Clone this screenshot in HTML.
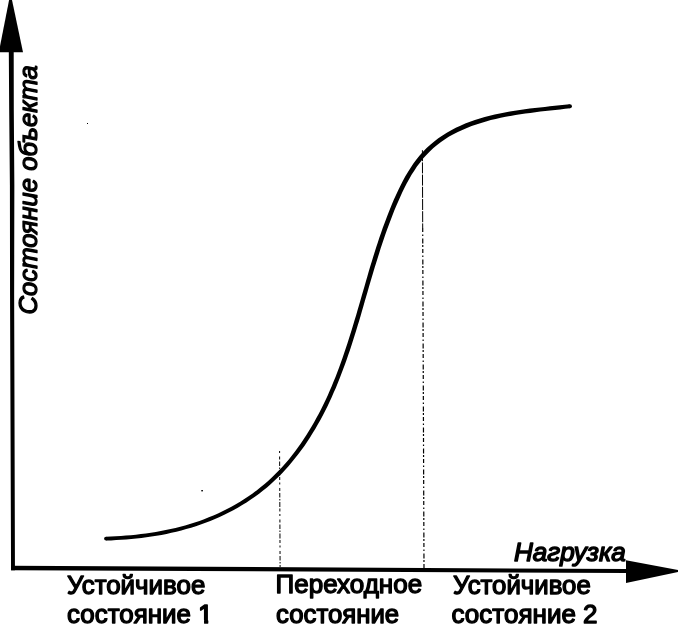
<!DOCTYPE html>
<html><head><meta charset="utf-8"><title>График</title>
<style>
html,body{margin:0;padding:0;background:#fff;}
svg{display:block}
text{font-family:"Liberation Sans",sans-serif;fill:#000;stroke:#000;stroke-linejoin:round}
.it{font-style:italic}
</style></head><body>
<svg width="678" height="625" viewBox="0 0 678 625">
<rect width="678" height="625" fill="#fff"/>
<!-- axes -->
<polygon points="9.1,0 12,0 23,52.3 -1.2,52.3" fill="#000"/>
<polygon points="8.8,50 13.7,50 13.8,110 14.35,185 14.15,295 14.95,570.3 11.05,570.3 10.05,295 9.9,185 9.2,110" fill="#000"/>
<polygon points="11.05,565.8 627,569.1 627,573.0 11.05,570.3" fill="#000"/>
<polygon points="626,560.2 678,569.9 678,571.9 626,583" fill="#000"/>
<!-- dashed -->
<line x1="279.6" y1="451" x2="280.1" y2="567" stroke="#000" stroke-width="1" stroke-dasharray="2 3.5 3 2 4.5 1.5 1.5 1.5 5 1.5 3 2.5"/>
<line x1="422.4" y1="150.2" x2="422.7" y2="228" stroke="#000" stroke-width="1" stroke-dasharray="11 1.2"/>
<line x1="422.7" y1="228" x2="424" y2="568.5" stroke="#000" stroke-width="1.2" stroke-dasharray="4 2.5 1.5 2.5 5 1.5 2 2"/>
<!-- curve -->
<g fill="#000"><path d="M106.1,540.5 L111.1,540.4 L116.2,540.1 L121.2,539.8 L126.2,539.4 L131.3,539.0 L136.3,538.5 L141.4,537.9 L146.4,537.3 L151.4,536.6 L156.5,535.8 L161.5,534.9 L166.5,533.9 L171.4,532.8 L176.4,531.7 L181.3,530.5 L186.2,529.1 L191.1,527.7 L195.9,526.2 L200.7,524.6 L205.5,522.8 L210.3,521.0 L215.0,519.1 L219.6,517.0 L224.3,514.8 L228.8,512.6 L233.3,510.2 L237.8,507.7 L242.2,505.1 L246.5,502.4 L250.8,499.6 L254.9,496.7 L259.1,493.7 L263.1,490.6 L267.0,487.4 L270.9,484.0 L274.6,480.6 L278.3,477.1 L281.9,473.5 L285.3,469.7 L288.7,466.0 L292.0,462.1 L295.2,458.1 L298.4,454.1 L301.4,450.0 L304.4,445.9 L307.2,441.7 L310.0,437.4 L312.7,433.1 L315.4,428.7 L317.9,424.3 L320.4,419.9 L322.8,415.4 L325.1,410.9 L327.4,406.4 L329.6,401.8 L331.7,397.2 L333.7,392.6 L335.8,387.9 L337.7,383.2 L339.6,378.5 L341.4,373.8 L343.2,369.1 L345.0,364.3 L346.7,359.5 L348.3,354.7 L350.0,349.9 L351.6,345.1 L353.1,340.3 L354.6,335.5 L356.1,330.7 L357.6,325.8 L359.1,321.0 L360.5,316.2 L361.9,311.3 L363.3,306.5 L364.7,301.6 L366.1,296.8 L367.5,292.0 L368.9,287.1 L370.3,282.3 L371.7,277.5 L373.2,272.6 L374.6,267.8 L376.1,263.0 L377.6,258.2 L379.1,253.4 L380.6,248.6 L382.2,243.8 L383.8,239.1 L385.4,234.3 L387.1,229.6 L388.8,224.9 L390.6,220.2 L392.4,215.5 L394.2,210.8 L396.2,206.1 L398.2,201.5 L400.2,196.9 L402.3,192.3 L404.5,187.7 L406.8,183.3 L409.2,178.9 L411.7,174.6 L414.4,170.4 L417.1,166.3 L420.1,162.4 L423.1,158.6 L426.4,154.9 L429.8,151.4 L433.4,148.1 L437.1,145.0 L441.0,142.0 L445.0,139.2 L449.1,136.6 L453.4,134.2 L457.8,132.0 L462.3,129.9 L466.9,127.9 L471.6,126.1 L476.3,124.4 L481.1,122.9 L486.0,121.4 L490.8,120.1 L495.7,118.9 L500.7,117.8 L505.6,116.8 L510.5,115.9 L515.5,115.0 L520.4,114.2 L525.4,113.5 L530.3,112.9 L535.3,112.2 L540.3,111.6 L545.2,111.1 L550.2,110.5 L555.2,110.0 L560.2,109.4 L565.2,108.8 L570.2,108.3 L569.7,104.2 L564.7,104.7 L559.7,105.3 L554.8,105.8 L549.8,106.3 L544.8,106.9 L539.8,107.4 L534.8,108.0 L529.8,108.6 L524.8,109.3 L519.8,110.0 L514.8,110.7 L509.8,111.6 L504.8,112.5 L499.8,113.5 L494.7,114.6 L489.7,115.8 L484.7,117.1 L479.8,118.5 L474.9,120.1 L470.0,121.8 L465.2,123.6 L460.4,125.7 L455.8,127.8 L451.2,130.2 L446.8,132.7 L442.5,135.4 L438.3,138.3 L434.2,141.4 L430.3,144.7 L426.6,148.1 L423.0,151.8 L419.6,155.6 L416.4,159.5 L413.4,163.6 L410.5,167.9 L407.8,172.2 L405.2,176.6 L402.8,181.1 L400.4,185.7 L398.2,190.3 L396.0,195.0 L393.9,199.6 L391.9,204.3 L390.0,209.0 L388.1,213.8 L386.3,218.5 L384.5,223.3 L382.7,228.0 L381.1,232.8 L379.4,237.6 L377.8,242.4 L376.2,247.2 L374.7,252.0 L373.2,256.8 L371.7,261.7 L370.2,266.5 L368.8,271.3 L367.4,276.2 L366.0,281.0 L364.6,285.9 L363.2,290.7 L361.8,295.6 L360.4,300.4 L359.0,305.2 L357.6,310.1 L356.2,314.9 L354.7,319.7 L353.3,324.5 L351.8,329.4 L350.3,334.2 L348.8,339.0 L347.3,343.7 L345.7,348.5 L344.1,353.3 L342.5,358.0 L340.8,362.8 L339.1,367.5 L337.3,372.2 L335.5,376.9 L333.6,381.5 L331.7,386.2 L329.7,390.8 L327.7,395.4 L325.6,399.9 L323.4,404.4 L321.2,408.9 L318.9,413.4 L316.5,417.8 L314.1,422.2 L311.6,426.5 L309.0,430.8 L306.4,435.1 L303.6,439.3 L300.8,443.4 L297.9,447.5 L295.0,451.5 L291.9,455.5 L288.8,459.4 L285.5,463.2 L282.2,466.9 L278.8,470.5 L275.3,474.1 L271.8,477.5 L268.1,480.9 L264.3,484.2 L260.5,487.3 L256.6,490.4 L252.6,493.4 L248.5,496.2 L244.3,499.0 L240.1,501.7 L235.8,504.2 L231.4,506.7 L227.0,509.0 L222.5,511.3 L218.0,513.4 L213.4,515.4 L208.8,517.3 L204.1,519.2 L199.5,520.9 L194.7,522.5 L189.9,524.0 L185.1,525.4 L180.3,526.7 L175.5,527.9 L170.6,529.1 L165.7,530.1 L160.8,531.1 L155.8,532.0 L150.9,532.7 L145.9,533.5 L140.9,534.1 L135.9,534.7 L130.9,535.2 L125.9,535.6 L120.9,536.0 L115.9,536.3 L111.0,536.6 L106.0,536.7Z"/><circle cx="106.0" cy="538.6" r="1.90"/><circle cx="569.9" cy="106.2" r="2.06"/></g>
<!-- scan specks -->
<rect x="87" y="123" width="1" height="1" fill="#000"/>
<rect x="201.3" y="490" width="1.6" height="1.4" fill="#000"/>
<defs><clipPath id="c1"><path d="M190,595H220V619.7H208.2V626H204.1V619.7H190Z"/></clipPath></defs>
<!-- labels -->
<text x="67.0" y="594.0" font-size="26" stroke-width="1.35" textLength="138.3" lengthAdjust="spacingAndGlyphs">Устойчивое</text>
<text x="67.0" y="623.0" font-size="26" stroke-width="1.35" textLength="123.9" lengthAdjust="spacingAndGlyphs">состояние</text>
<text x="198.3" y="623.0" font-size="26" stroke-width="1.7" clip-path="url(#c1)">1</text>
<text x="275.5" y="593.4" font-size="26" stroke-width="1.35" textLength="146.7" lengthAdjust="spacingAndGlyphs">Переходное</text>
<text x="276.0" y="622.5" font-size="26" stroke-width="1.35" textLength="123.2" lengthAdjust="spacingAndGlyphs">состояние</text>
<text x="453.0" y="594.0" font-size="26" stroke-width="1.35" textLength="137.8" lengthAdjust="spacingAndGlyphs">Устойчивое</text>
<text x="451.5" y="623.0" font-size="26" stroke-width="1.35" textLength="124.4" lengthAdjust="spacingAndGlyphs">состояние</text>
<text x="583.0" y="623.0" font-size="26" stroke-width="1.35">2</text>
<text class="it" x="514.0" y="561.0" font-size="25.3" stroke-width="1.4" textLength="111.8" lengthAdjust="spacingAndGlyphs">Нагрузка</text>
<text class="it" transform="translate(37.1,314.4) rotate(-90)" font-size="26" stroke-width="1.3" textLength="249.2" lengthAdjust="spacingAndGlyphs">Состояние объекта</text>
</svg>
</body></html>
